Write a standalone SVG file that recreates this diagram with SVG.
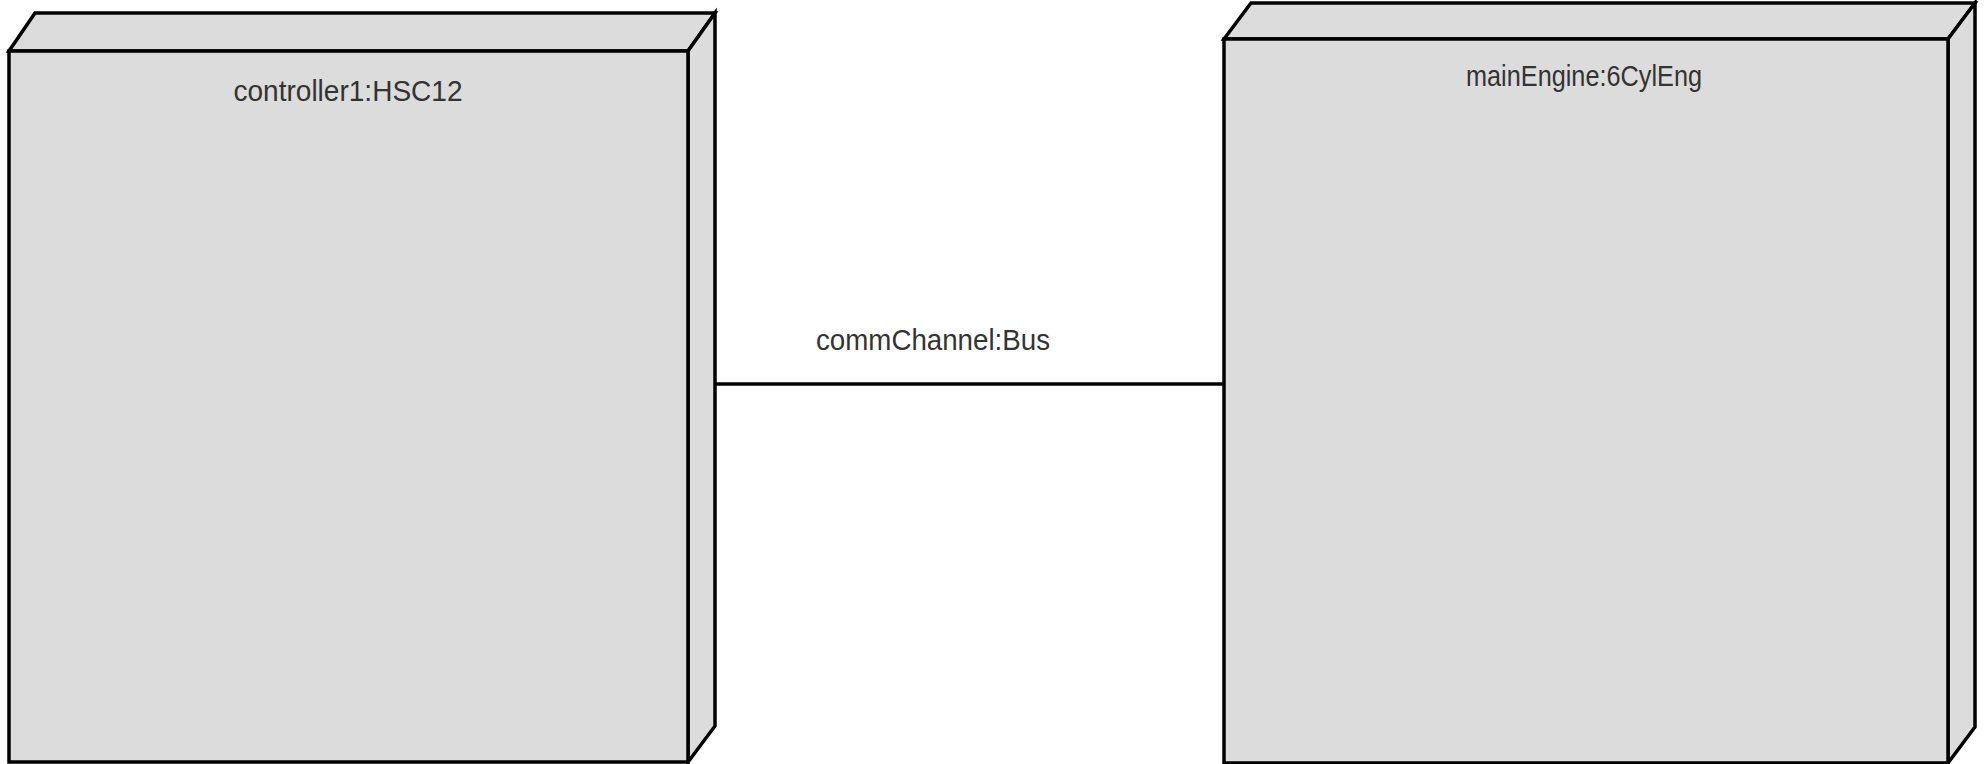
<svg xmlns="http://www.w3.org/2000/svg" width="1986" height="764" viewBox="0 0 1986 764">
  <style>
    .face { fill: #dcdcdc; stroke: #000; stroke-width: 3.5; stroke-linejoin: miter; }
    .lbl { font-family: "Liberation Sans", Arial, sans-serif; font-size: 29px; fill: #333; text-anchor: middle; }
    .conn { stroke: #000; stroke-width: 3.5; fill: none; }
  </style>
  <rect x="0" y="0" width="1986" height="764" fill="#fff"/>
  <g id="controller1">
    <polygon class="face" points="9,51 35,13 715,13 688,51"/>
    <polygon class="face" points="688,51 715,13 715,726 688,762"/>
    <rect class="face" x="9" y="51" width="679" height="711"/>
    <text class="lbl" x="348" y="101" textLength="229" lengthAdjust="spacingAndGlyphs">controller1:HSC12</text>
  </g>
  <g id="mainEngine">
    <polygon class="face" points="1224,39 1251,3 1975,3 1948,39"/>
    <polygon class="face" points="1948,39 1975,3 1975,727 1948,763"/>
    <rect class="face" x="1224" y="39" width="724" height="724"/>
    <text class="lbl" x="1584" y="86" textLength="236" lengthAdjust="spacingAndGlyphs">mainEngine:6CylEng</text>
  </g>
  <g id="connectors">
    <line class="conn" x1="715" y1="384" x2="1224" y2="384"/>
    <text class="lbl" x="933" y="350" textLength="234" lengthAdjust="spacingAndGlyphs">commChannel:Bus</text>
  </g>
</svg>
